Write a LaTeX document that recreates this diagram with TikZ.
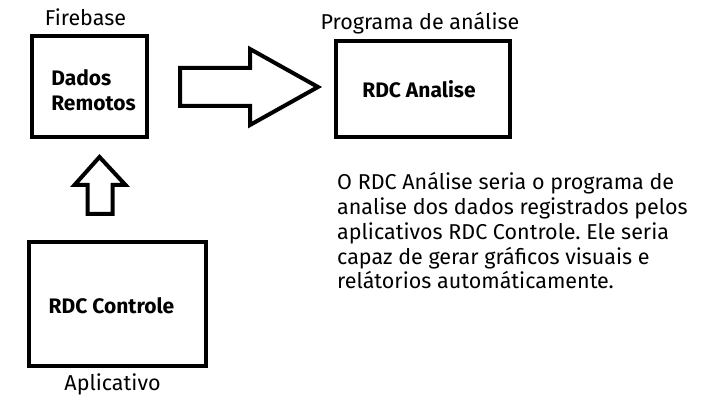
\documentclass[tikz,border=0pt]{standalone}
\usepackage{fontspec}
\setmainfont{Fira Sans}
\usetikzlibrary{positioning,calc}
\frenchspacing

\begin{document}
\begin{tikzpicture}[
		x=1pt, y=1pt,
		every node/.style={font=\fontsize{21.5}{24.8}\selectfont},
		box/.style={rectangle, draw=black, line width=4pt, outer sep=0pt},
		title/.style={font=\fontsize{21}{25}\selectfont\bfseries},
		lbl/.style={inner sep=0pt},
		blockarrow/.style={draw=black, line width=4pt, line join=miter}
	]
	\useasboundingbox (0,0) rectangle (718,412);

	% Boxes
	\node[box, minimum width=115pt, minimum height=101pt] (dados) at (89.5,325.5) {};
	\node[title, align=left] at ($(dados)+(4,-4)$) {Dados\\Remotos};
	\node[box, minimum width=174pt, minimum height=96pt] (analise) at (423,323) {};
	\node[title] at ($(analise)+(-4,0)$) {RDC Analise};
	\node[box, minimum width=177pt, minimum height=124pt] (controle) at (117.5,108) {};
	\node[title] at ($(controle)+(-6,-2)$) {RDC Controle};

	% Labels
	\node[lbl, above=10pt of dados, anchor=base, xshift=-4pt] (firebase) {Firebase};
	\node[lbl, above=11pt of analise, anchor=base, xshift=-3pt] (programa) {Programa de análise};
	\node[lbl, below=24.5pt of controle, anchor=base, xshift=-5pt] (aplicativo) {Aplicativo};

	% Block arrows
	\coordinate (r0) at ($(dados.east)+(33,0)$);
	\draw[blockarrow] (r0) ++(0,18.5) -- ++(70,0) -- ++(0,19) -- ++(68,-38)
		-- ++(-68,-38) -- ++(0,19) -- ++(-70,0) -- cycle;
	\coordinate (u0) at ($(controle.north)+(-17.5,28)$);
	\draw[blockarrow] (u0) ++(-12.5,0) -- ++(0,29) -- ++(-13,0) -- ++(25,28)
		-- ++(26,-28) -- ++(-13,0) -- ++(0,-29) -- cycle;

	% Text
	\node[lbl, align=left, anchor=base west] (texto) at (337,123)
		{O RDC Análise seria o programa de\\
		analise dos dados registrados pelos\\
		aplicativos RDC Controle. Ele seria\\
		capaz de gerar gráficos visuais e\\
		relátorios automáticamente.};
\end{tikzpicture}
\end{document}
